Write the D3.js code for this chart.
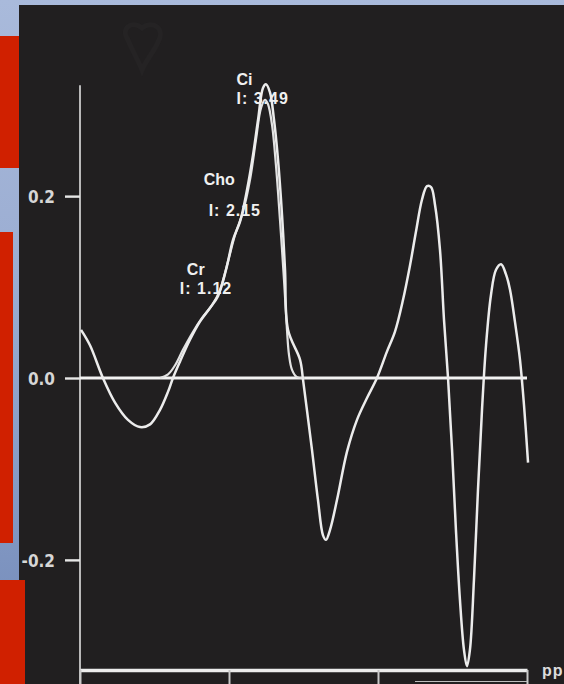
<!DOCTYPE html>
<html>
<head>
<meta charset="utf-8">
<script src="https://cdn.jsdelivr.net/npm/d3@7"></script>
<style>
  html, body { margin: 0; padding: 0; overflow: hidden; }
  body { width: 564px; height: 684px; background: linear-gradient(180deg, #a9badb 0%, #9badd2 40%, #7189b8 100%); }
  svg { display: block; }
</style>
</head>
<body>
<svg id="chart" width="564" height="684"></svg>
<script>
// Axis ticks
const yTicks = [-0.2, 0.0, 0.2];
const xTicks = [4, 3, 2, 1];          // ppm, unlabeled tick marks
const xUnit = "pp";

// Measured spectrum (ppm, amplitude)
const spectrumPpm = [3.993, 3.933, 3.846, 3.765, 3.678, 3.597, 3.530, 3.463, 3.409, 3.376,
  3.329, 3.262, 3.195, 3.128, 3.074, 3.020, 2.973, 2.926, 2.879, 2.839, 2.805, 2.772, 2.752,
  2.725, 2.698, 2.671, 2.644, 2.624, 2.604, 2.523, 2.503, 2.477, 2.443, 2.403, 2.369, 2.349,
  2.322, 2.275, 2.208, 2.141, 2.074, 2.007, 1.940, 1.886, 1.832, 1.785, 1.745, 1.705, 1.671,
  1.644, 1.617, 1.584, 1.557, 1.530, 1.503, 1.477, 1.450, 1.423, 1.403, 1.383, 1.356, 1.329,
  1.302, 1.275, 1.242, 1.208, 1.174, 1.141, 1.114, 1.081, 1.047, 1.020, 0.993];
const spectrumVal = [0.053, 0.036, 0.000, -0.027, -0.046, -0.054, -0.051, -0.035, -0.015, 0.000,
  0.018, 0.042, 0.062, 0.077, 0.090, 0.119, 0.152, 0.172, 0.207, 0.245, 0.284, 0.319, 0.323,
  0.314, 0.284, 0.240, 0.179, 0.119, 0.053, 0.020, -0.002, -0.035, -0.079, -0.134, -0.173, -0.178,
  -0.167, -0.134, -0.081, -0.046, -0.022, 0.000, 0.029, 0.051, 0.086, 0.124, 0.161, 0.196, 0.211,
  0.210, 0.190, 0.141, 0.064, 0.000, -0.079, -0.167, -0.244, -0.299, -0.317, -0.299, -0.222, -0.123,
  -0.035, 0.036, 0.091, 0.119, 0.125, 0.114, 0.097, 0.062, 0.020, -0.030, -0.093];

// Fitted metabolite curve (ppm, amplitude)
const fitPpm = [3.463, 3.409, 3.362, 3.309, 3.248, 3.181, 3.114, 3.060, 3.007, 2.960, 2.906,
  2.859, 2.819, 2.785, 2.758, 2.738, 2.711, 2.685, 2.658, 2.631, 2.611, 2.597, 2.577, 2.544, 2.490];
const fitVal = [0.000, 0.004, 0.014, 0.031, 0.049, 0.066, 0.080, 0.097, 0.128, 0.157, 0.183,
  0.218, 0.262, 0.297, 0.306, 0.301, 0.278, 0.234, 0.174, 0.108, 0.053, 0.025, 0.009, 0.001, 0.000];

// Peak annotations
const peakNames = ["Cr", "Cho", "Ci"];
const peakIntegrals = ["1.12", "2.15", "3.49"];
const peakLabelPpm = [3.33, 3.17, 2.95];
const peakLabelVal = [0.113, 0.212, 0.322];

const svg = d3.select("#chart");

// Dark plotting panel
svg.append("rect").attr("x", 19).attr("y", 5).attr("width", 545).attr("height", 679).attr("fill", "#211f20");

// Faint watermark emblem
svg.append("path")
  .attr("d", "M128,40 C120,28 132,20 142,28 C152,20 166,28 158,42 C154,52 146,60 142,70 C138,60 132,50 128,40 Z")
  .attr("fill", "none").attr("stroke", "#252324").attr("stroke-width", 5);

// Red side tabs
const tabs = [[0, 36, 19, 132], [0, 232, 13, 311], [0, 580, 25, 104]];
svg.selectAll("rect.tab").data(tabs).join("rect").attr("class", "tab")
  .attr("x", d => d[0]).attr("y", d => d[1]).attr("width", d => d[2]).attr("height", d => d[3])
  .attr("fill", "#d02000");

const x = d3.scaleLinear().domain([4, 1]).range([80, 527]);
const y = d3.scaleLinear().domain([-0.32, 0.32]).range([669, 87]);

// Y axis
const yAxis = svg.append("g").attr("transform", "translate(80,0)")
  .call(d3.axisLeft(y).tickValues(yTicks).tickSize(15).tickSizeOuter(0).tickPadding(10)
    .tickFormat(d => d3.format(".1f")(d).replace("\u2212", "-")));
yAxis.select(".domain").attr("stroke", "#b9b9b9").attr("stroke-width", 2)
  .attr("d", `M0,${y(0.322)}V684`);
yAxis.selectAll(".tick line").attr("stroke", "#e6e6e6").attr("stroke-width", 2.4);
yAxis.selectAll(".tick text").attr("fill", "#d6d6d6")
  .style("font-family", "'Liberation Sans Narrow', 'Arial Narrow', 'DejaVu Sans Condensed', sans-serif")
  .style("font-size", "17px").style("font-weight", "bold").attr("dy", "0.36em");

// Zero baseline across the plot
svg.append("line").attr("x1", 80).attr("x2", x(1)).attr("y1", y(0)).attr("y2", y(0))
  .attr("stroke", "#f2f2f2").attr("stroke-width", 2.8);

// X axis (ppm)
const xAxis = svg.append("g").attr("transform", "translate(0,670)")
  .call(d3.axisBottom(x).tickValues(xTicks).tickSize(14).tickSizeOuter(0).tickFormat(""));
xAxis.select(".domain").attr("stroke", "#ececec").attr("stroke-width", 3.5);
xAxis.selectAll(".tick line").attr("stroke", "#c8c8c8").attr("stroke-width", 2);
svg.append("line").attr("x1", 415).attr("x2", x(1)).attr("y1", 681.5).attr("y2", 681.5)
  .attr("stroke", "#bdbdbd").attr("stroke-width", 1);
svg.append("text").attr("x", 542).attr("y", 676).text(xUnit)
  .attr("fill", "#dcdcdc").style("font-family", "'Liberation Sans', Arial, sans-serif")
  .style("font-size", "16px").style("font-weight", "bold").style("letter-spacing", "1px");

// Curves
const line = d3.line().x(d => x(d[0])).y(d => y(d[1])).curve(d3.curveCatmullRom.alpha(0.5));
const fit = fitPpm.map((p, i) => [p, fitVal[i]]);
const spectrum = spectrumPpm.map((p, i) => [p, spectrumVal[i]]);
svg.append("path").datum(fit).attr("d", line)
  .attr("fill", "none").attr("stroke", "#e2e2e2").attr("stroke-width", 2.2);
svg.append("path").datum(spectrum).attr("d", line)
  .attr("fill", "none").attr("stroke", "#ececec").attr("stroke-width", 2.5);

// Peak labels
const lab = svg.append("g").attr("fill", "#f0f0f0")
  .style("font-family", "'Liberation Sans', Arial, sans-serif").style("font-size", "16px")
  .style("font-weight", "bold");
peakNames.forEach((name, i) => {
  const px = x(peakLabelPpm[i]), py = y(peakLabelVal[i]);
  lab.append("text").attr("x", px + (i === 0 ? 7 : 0)).attr("y", py).text(name);
  lab.append("text").attr("x", px + (i === 1 ? 5 : 0)).attr("y", py + (i === 1 ? 31 : 19))
    .style("letter-spacing", "1px").text("I: " + peakIntegrals[i]);
});
</script>
</body>
</html>
